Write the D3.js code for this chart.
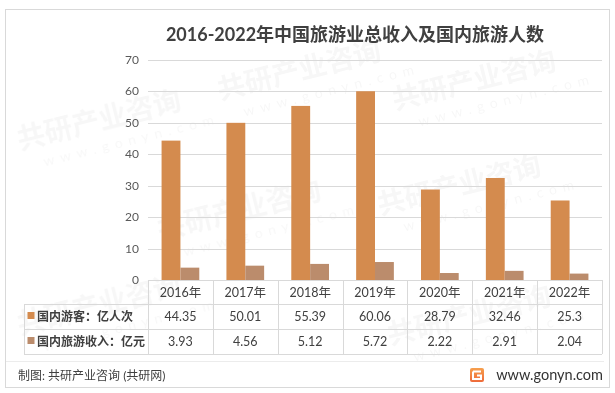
<!DOCTYPE html>
<html>
<head>
<meta charset="utf-8">
<script src="https://cdn.jsdelivr.net/npm/d3@7"></script>
<style>
  body { margin: 0; background: #fff; }
  svg { display: block; }
  text { font-family: Lato, "Noto Sans CJK SC", sans-serif; }
</style>
</head>
<body>
<div id="chart"></div>
<script>
// Chart data
const years = ['2016年', '2017年', '2018年', '2019年', '2020年', '2021年', '2022年'];
const tourists = [44.35, 50.01, 55.39, 60.06, 28.79, 32.46, 25.3];
const revenue = [3.93, 4.56, 5.12, 5.72, 2.22, 2.91, 2.04];
const seriesNames = ['国内游客：亿人次', '国内旅游收入：亿元'];
const yTicks = [0, 10, 20, 30, 40, 50, 60, 70];

const colors = ['#D48B4E', '#BB8C6C'];
const gridColor = '#d9d9d9';

const width = 615, height = 393;

const svg = d3.select('#chart')
    .append('svg')
    .attr('width', width)
    .attr('height', height);

// outer frame
svg.append('rect')
    .attr('x', 5.5).attr('y', 9.5)
    .attr('width', 604).attr('height', 378)
    .attr('fill', '#fff')
    .attr('stroke', '#d9d9d9');

// faint watermarks, kept inside the frame
const wm = svg.append('g').attr('opacity', 0.035);
const wmSpots = [[20, 150], [220, 100], [395, 110], [160, 240], [380, 215], [390, 345], [20, 335]];
wmSpots.forEach(p => {
    const g = wm.append('g').attr('transform', `translate(${p[0]},${p[1]}) rotate(-14)`);
    g.append('text').attr('font-size', 28).attr('font-weight', 'bold').attr('fill', '#000').text('共研产业咨询');
    g.append('text').attr('x', 20).attr('y', 22).attr('font-size', 14).attr('fill', '#000')
        .attr('letter-spacing', 6).text('www.gonyn.com');
});

// Title
svg.append('text')
    .attr('x', 355)
    .attr('y', 41)
    .attr('text-anchor', 'middle')
    .attr('font-size', 18)
    .attr('font-weight', 'bold')
    .attr('fill', '#404040')
    .text('2016-2022年中国旅游业总收入及国内旅游人数');

// Scales
const x = d3.scaleBand()
    .domain(years)
    .range([148, 602]);

const x1 = d3.scaleBand()
    .domain([0, 1])
    .range([0, x.bandwidth()])
    .paddingInner(0)
    .paddingOuter(0.72);

const y = d3.scaleLinear()
    .domain([0, 70])
    .range([280, 60]);

// Gridlines
svg.append('g')
    .selectAll('line')
    .data(yTicks.filter(d => d > 0))
    .enter()
    .append('line')
    .attr('x1', 148).attr('x2', 602)
    .attr('y1', d => Math.round(y(d)) + 0.5)
    .attr('y2', d => Math.round(y(d)) + 0.5)
    .attr('stroke', gridColor);

// Y labels
svg.append('g')
    .selectAll('text')
    .data(yTicks)
    .enter()
    .append('text')
    .attr('x', 139)
    .attr('y', d => y(d) + 4)
    .attr('text-anchor', 'end')
    .attr('font-size', 12)
    .attr('fill', '#595959')
    .text(d => d);

// Bars
const series = [tourists, revenue];
series.forEach((vals, si) => {
    svg.append('g')
        .selectAll('rect')
        .data(vals)
        .enter()
        .append('rect')
        .attr('x', (d, i) => x(years[i]) + x1(si))
        .attr('y', d => y(d))
        .attr('width', x1.bandwidth())
        .attr('height', d => y(0) - y(d))
        .attr('fill', colors[si]);
});

// Data table
const rowY = [280, 304, 329, 354];
const table = svg.append('g').attr('stroke', gridColor).attr('fill', 'none');

// horizontal lines
table.append('line').attr('x1', 148).attr('x2', 602).attr('y1', rowY[0] + 0.5).attr('y2', rowY[0] + 0.5);
rowY.slice(1).forEach(ry => {
    table.append('line').attr('x1', 24).attr('x2', 602).attr('y1', ry + 0.5).attr('y2', ry + 0.5);
});
// vertical lines
table.append('line').attr('x1', 24.5).attr('x2', 24.5).attr('y1', rowY[1]).attr('y2', rowY[3]);
years.forEach(yr => {
    const xx = Math.round(x(yr)) + 0.5;
    table.append('line').attr('x1', xx).attr('x2', xx).attr('y1', rowY[0]).attr('y2', rowY[3]);
});
table.append('line').attr('x1', 602.5).attr('x2', 602.5).attr('y1', rowY[0]).attr('y2', rowY[3]);

// year header
svg.append('g')
    .selectAll('text')
    .data(years)
    .enter()
    .append('text')
    .attr('x', d => x(d) + x.bandwidth() / 2)
    .attr('y', (rowY[0] + rowY[1]) / 2 + 4.5)
    .attr('text-anchor', 'middle')
    .attr('font-size', 12.5)
    .attr('fill', '#404040')
    .text(d => d);

// series rows
series.forEach((vals, si) => {
    const cy = (rowY[si + 1] + rowY[si + 2]) / 2;
    svg.append('rect')
        .attr('x', 27.5).attr('y', cy - 4.5)
        .attr('width', 7).attr('height', 7)
        .attr('fill', colors[si]);
    svg.append('text')
        .attr('x', 37)
        .attr('y', cy + 4.5)
        .attr('font-size', 12)
        .attr('font-weight', 'bold')
        .attr('fill', '#404040')
        .text(seriesNames[si]);
    svg.append('g')
        .selectAll('text')
        .data(vals)
        .enter()
        .append('text')
        .attr('x', (d, i) => x(years[i]) + x.bandwidth() / 2)
        .attr('y', cy + 4.5)
        .attr('text-anchor', 'middle')
        .attr('font-size', 12.5)
        .attr('fill', '#404040')
        .text(d => String(d));
});

// footer
svg.append('line')
    .attr('x1', 6).attr('x2', 604)
    .attr('y1', 361.5).attr('y2', 361.5)
    .attr('stroke', '#ececec');

svg.append('text')
    .attr('x', 18)
    .attr('y', 380)
    .attr('font-size', 12)
    .attr('fill', '#404040')
    .text('制图: 共研产业咨询 (共研网)');

const grad = svg.append('defs').append('linearGradient')
    .attr('id', 'logoGrad')
    .attr('x1', 0).attr('y1', 0).attr('x2', 0).attr('y2', 1);
grad.append('stop').attr('offset', 0).attr('stop-color', '#F6A04E');
grad.append('stop').attr('offset', 1).attr('stop-color', '#EE6A3A');

const logo = svg.append('g').attr('transform', 'translate(470,368)');
logo.append('rect').attr('width', 14).attr('height', 14).attr('rx', 2).attr('fill', 'url(#logoGrad)');
logo.append('path')
    .attr('d', 'M3 3.5 H11 M3 3.5 V11 H11 V7.5 H7')
    .attr('stroke', '#fff').attr('stroke-width', 2).attr('fill', 'none');

svg.append('text')
    .attr('x', 603)
    .attr('y', 380)
    .attr('text-anchor', 'end')
    .attr('font-size', 14.5)
    .attr('fill', '#333')
    .text('www.gonyn.com');
</script>
</body>
</html>
